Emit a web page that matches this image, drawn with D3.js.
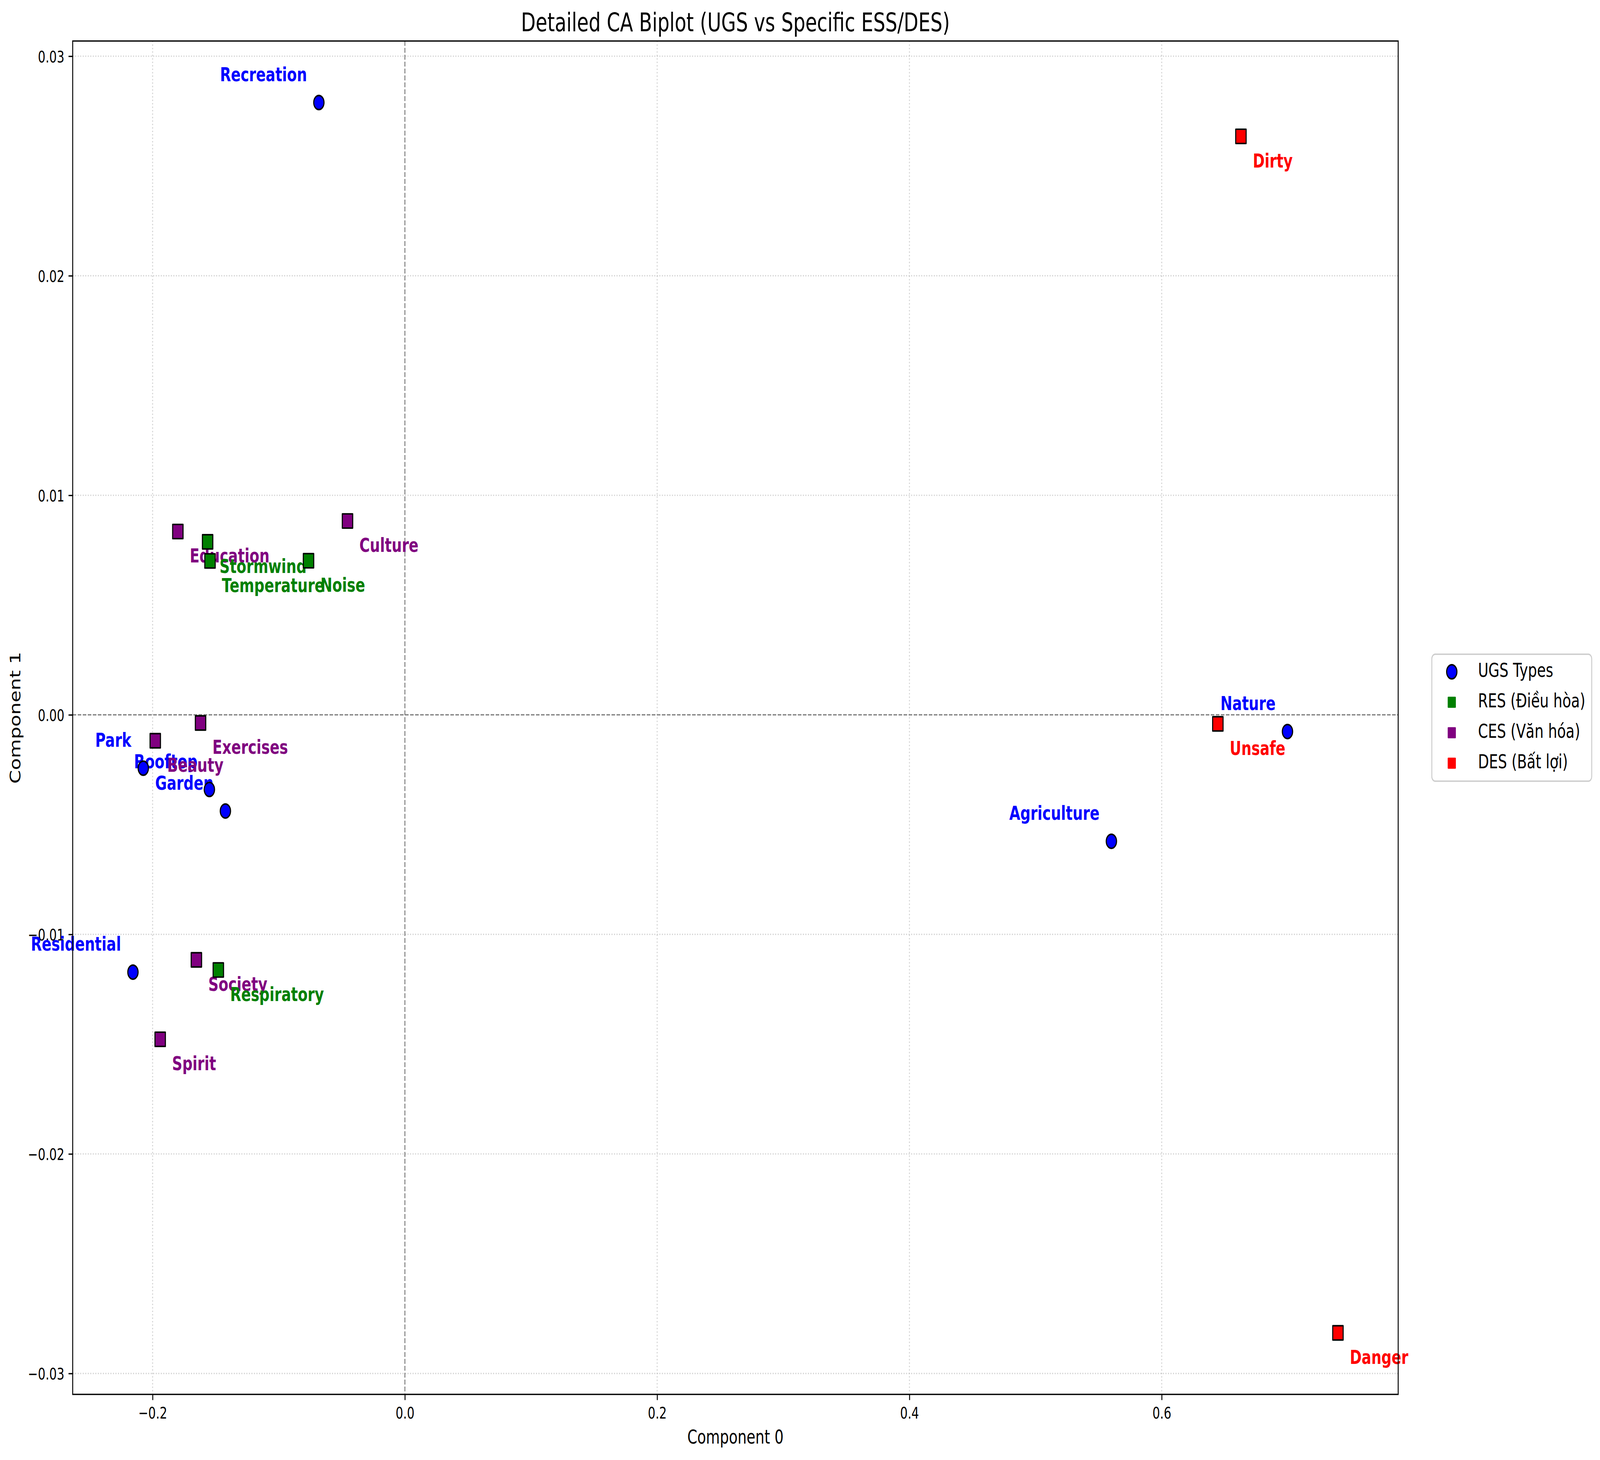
<!DOCTYPE html>
<html><head><meta charset="utf-8">
<script src="https://cdn.jsdelivr.net/npm/d3@7"></script>
<style>html,body{margin:0;padding:0;background:#fff;overflow:hidden;} svg{display:block;}</style>
</head><body><div id="chart"></div>
<script>
// ---- data ----
const ugsNames = ["Recreation","Park","Rooftop","Garden","Residential","Agriculture","Nature"];
const ugsX = [-0.0682,-0.2074,-0.1550,-0.1423,-0.2156,0.5601,0.6997];
const ugsY = [0.02789,-0.00243,-0.00340,-0.00438,-0.01172,-0.00576,-0.00076];
const resNames = ["Stormwind","Temperature","Noise","Respiratory"];
const resX = [-0.1564,-0.1545,-0.0764,-0.1479];
const resY = [0.00788,0.00701,0.00702,-0.01162];
const cesNames = ["Education","Culture","Exercises","Beauty","Society","Spirit"];
const cesX = [-0.1800,-0.0455,-0.1620,-0.1979,-0.1653,-0.1940];
const cesY = [0.00835,0.00883,-0.00037,-0.00118,-0.01116,-0.01478];
const desNames = ["Dirty","Unsafe","Danger"];
const desX = [0.6628,0.6445,0.7397];
const desY = [0.02635,-0.00041,-0.02815];
const seriesNames = ["UGS Types","RES (Điều hòa)","CES (Văn hóa)","DES (Bất lợi)"];
const seriesColors = ["blue","green","purple","red"];
const xTicks = [-0.2,0,0.2,0.4,0.6];
const xTickLabels = ["\u22120.2","0.0","0.2","0.4","0.6"];
const yTicks = [-0.03,-0.02,-0.01,0,0.01,0.02,0.03];
const yTickLabels = ["\u22120.03","\u22120.02","\u22120.01","0.00","0.01","0.02","0.03"];
const titleText = "Detailed CA Biplot (UGS vs Specific ESS/DES)";
const xLabelText = "Component 0";
const yLabelText = "Component 1";

// ---- layout (designed in a 5613x3738 frame, scaled to the window) ----
const W = 5613, H = 3738;
const L = 255, T = 105, R = 4905, B = 3570;
const FONT = "DejaVu Sans";
const FS_TICK = 41.67, FS_LAB = 50, FS_TITLE = 66.67, FS_ANN = 50;
const PT = 4.1667;

const toPts = (names, xs, ys) => names.map((n,i)=>({name:n, x:xs[i], y:ys[i]}));
const ugs = toPts(ugsNames, ugsX, ugsY);
const res = toPts(resNames, resX, resY);
const ces = toPts(cesNames, cesX, cesY);
const des = toPts(desNames, desX, desY);
const all = [...ugs, ...res, ...ces, ...des];

const xe = d3.extent(all, d=>d.x), ye = d3.extent(all, d=>d.y);
const xp = (xe[1]-xe[0])*0.05, yp = (ye[1]-ye[0])*0.05;
const x = d3.scaleLinear().domain([xe[0]-xp, xe[1]+xp]).range([L, R]);
const y = d3.scaleLinear().domain([ye[0]-yp, ye[1]+yp]).range([B, T]);

const vw = window.innerWidth || W, vh = window.innerHeight || H;
const svg = d3.select("#chart").append("svg")
  .attr("width", vw).attr("height", vh).attr("viewBox", `0 0 ${W} ${H}`)
  .attr("preserveAspectRatio", "none")
  .style("font-family", FONT);
svg.append("rect").attr("width", W).attr("height", H).attr("fill", "#fff");

// grid
const grid = svg.append("g");
grid.selectAll("line.gx").data(xTicks).join("line")
  .attr("x1", d=>x(d)).attr("x2", d=>x(d)).attr("y1", T).attr("y2", B)
  .attr("stroke", "#b0b0b0").attr("stroke-opacity", 0.6)
  .attr("stroke-width", 0.8*PT).attr("stroke-dasharray", `${0.8*PT} ${1.32*PT}`);
grid.selectAll("line.gy").data(yTicks).join("line")
  .attr("y1", d=>y(d)).attr("y2", d=>y(d)).attr("x1", L).attr("x2", R)
  .attr("stroke", "#b0b0b0").attr("stroke-opacity", 0.6)
  .attr("stroke-width", 0.8*PT).attr("stroke-dasharray", `${0.8*PT} ${1.32*PT}`);

// zero lines
svg.append("line").attr("x1", L).attr("x2", R).attr("y1", y(0)).attr("y2", y(0))
  .attr("stroke", "gray").attr("stroke-width", 0.8*PT).attr("stroke-dasharray", `${2.96*PT} ${1.28*PT}`);
svg.append("line").attr("y1", T).attr("y2", B).attr("x1", x(0)).attr("x2", x(0))
  .attr("stroke", "gray").attr("stroke-width", 0.8*PT).attr("stroke-dasharray", `${2.96*PT} ${1.28*PT}`);

// axes
const ax = svg.append("g").attr("transform", `translate(0,${B})`)
  .call(d3.axisBottom(x).tickValues(xTicks).tickFormat((d,i)=>xTickLabels[i]).tickSizeInner(3.5*PT).tickSizeOuter(0));
ax.select(".domain").remove();
ax.selectAll(".tick line").attr("stroke", "#000").attr("stroke-width", 0.8*PT);
ax.selectAll(".tick text").attr("y", 62).attr("dy", null).attr("fill", "#000")
  .style("font-size", FS_TICK+"px").style("font-family", FONT);

const ay = svg.append("g").attr("transform", `translate(${L},0)`)
  .call(d3.axisLeft(y).tickValues(yTicks).tickFormat((d,i)=>yTickLabels[i]).tickSizeInner(3.5*PT).tickSizeOuter(0));
ay.select(".domain").remove();
ay.selectAll(".tick line").attr("stroke", "#000").attr("stroke-width", 0.8*PT);
ay.selectAll(".tick text").attr("x", -29.2).attr("dy", "0.365em").attr("fill", "#000")
  .style("font-size", FS_TICK+"px").style("font-family", FONT);

// labels
const ann = svg.append("g").style("font-weight", "bold").style("font-size", FS_ANN+"px");
ann.selectAll("text.u").data(ugs).join("text")
  .attr("x", d=>x(d.x) - 10*PT).attr("y", d=>y(d.y) - 54.5)
  .attr("text-anchor", "end").attr("fill", "blue").text(d=>d.name);
[[ces,"purple"],[res,"green"],[des,"red"]].forEach(([arr,col])=>{
  ann.append("g").selectAll("text").data(arr).join("text")
    .attr("x", d=>x(d.x) + 10*PT).attr("y", d=>y(d.y) + 79.5)
    .attr("text-anchor", "start").attr("fill", col).text(d=>d.name);
});

// markers
const mk = svg.append("g");
mk.selectAll("circle").data(ugs).join("circle")
  .attr("cx", d=>x(d.x)).attr("cy", d=>y(d.y)).attr("r", 18)
  .attr("fill", "blue").attr("stroke", "#000").attr("stroke-width", 4);
const sq = 36.5;
[[res,"green"],[ces,"purple"],[des,"red"]].forEach(([arr,col])=>{
  mk.append("g").selectAll("rect").data(arr).join("rect")
    .attr("x", d=>x(d.x)-sq/2).attr("y", d=>y(d.y)-sq/2).attr("width", sq).attr("height", sq)
    .attr("fill", col).attr("stroke", "#000").attr("stroke-width", 3.8).attr("stroke-linejoin", "round");
});

// frame
svg.append("rect").attr("x", L).attr("y", T).attr("width", R-L).attr("height", B-T)
  .attr("fill", "none").attr("stroke", "#000").attr("stroke-width", 0.8*PT);

// titles
svg.append("text").attr("x", (L+R)/2).attr("y", 80).attr("text-anchor", "middle")
  .style("font-size", FS_TITLE+"px").attr("fill", "#000").text(titleText);
svg.append("text").attr("x", (L+R)/2).attr("y", 3696).attr("text-anchor", "middle")
  .style("font-size", FS_LAB+"px").attr("fill", "#000").text(xLabelText);
svg.append("text").attr("transform", `translate(71.7,${(T+B)/2}) rotate(-90)`).attr("text-anchor", "middle")
  .style("font-size", FS_LAB+"px").attr("fill", "#000").text(yLabelText);

// legend
const lg = svg.append("g");
lg.append("rect").attr("x", 5023).attr("y", 1675).attr("width", 561).attr("height", 325)
  .attr("rx", 12).attr("ry", 12).attr("fill", "#fff").attr("fill-opacity", 0.8)
  .attr("stroke", "#cccccc").attr("stroke-width", 0.8*PT);
const rows = lg.selectAll("g.row").data(seriesNames).join("g")
  .attr("transform", (d,i)=>`translate(0,${1733 + i*78})`);
rows.each(function(d,i){
  const g = d3.select(this);
  if (i === 0) {
    g.append("circle").attr("cx", 5093).attr("cy", -13).attr("r", 18)
      .attr("fill", seriesColors[i]).attr("stroke", "#000").attr("stroke-width", 4);
  } else {
    g.append("rect").attr("x", 5093-14.3).attr("y", -13-14.3).attr("width", 28.6).attr("height", 28.6)
      .attr("rx", 2).attr("fill", seriesColors[i]);
  }
  g.append("text").attr("x", 5185).attr("y", 0).style("font-size", FS_LAB+"px")
    .attr("fill", "#000").text(d);
});
</script></body></html>
